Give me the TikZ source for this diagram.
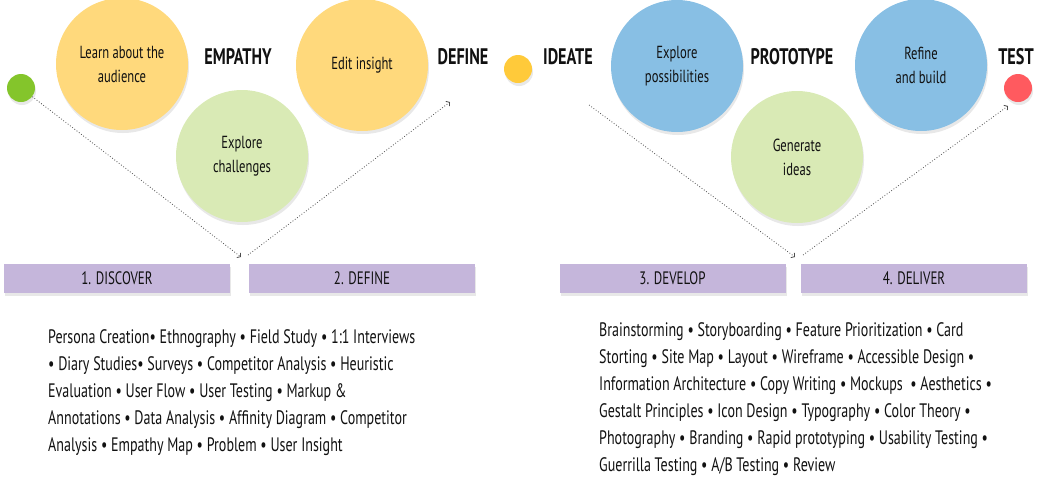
\documentclass[tikz,border=0pt]{standalone}
\usepackage{fontspec}
\setmainfont{PT Sans}[FakeStretch=0.72]
\usetikzlibrary{shadows,arrows.meta}
\definecolor{yellowC}{HTML}{FFD97C}
\definecolor{greenC}{HTML}{D9EAB5}
\definecolor{blueC}{HTML}{88BFE4}
\definecolor{dotGreen}{HTML}{84C52B}
\definecolor{dotYellow}{HTML}{FFCA3A}
\definecolor{dotRed}{HTML}{FF5A5F}
\definecolor{barC}{HTML}{C5B6DB}
\definecolor{inkC}{HTML}{111111}
\newcommand\myBody{\fontsize{19.5}{27}\selectfont}
\newcommand\myCirc{\fontsize{17.5}{24}\selectfont}
\newcommand\myHead{\bfseries\fontsize{22.5}{24}\selectfont}
\newcommand\myBar{\fontsize{18}{20}\selectfont}
\tikzset{
  softshadow/.style={drop shadow={opacity=0.18, shadow xshift=1pt, shadow yshift=-3pt}},
  bigcirc/.style={circle, minimum size=132pt, inner sep=0pt, align=center, font=\myCirc, text=inkC, softshadow},
  smalldot/.style={circle, minimum size=28pt, inner sep=0pt, softshadow},
  headtext/.style={font=\myHead, text=inkC, inner sep=0pt},
  phasebar/.style={fill=barC, minimum width=226pt, minimum height=29pt, inner sep=0pt, font=\myBar, text=inkC, softshadow},
  bodytext/.style={font=\myBody, text=inkC, align=left, inner sep=0pt, anchor=north west},
  conn/.style={draw=black!70, dotted, line width=0.8pt, -{Straight Barb[length=2.5pt,width=6pt]}},
}
\begin{document}
\begin{tikzpicture}[x=1pt,y=-1pt]
\useasboundingbox (0,0) rectangle (1038,480);
% dots
\node[smalldot, fill=dotGreen] (gdot) at (21,88) {};
\node[smalldot, fill=dotYellow] (ydot) at (518,69) {};
\node[smalldot, fill=dotRed] (rdot) at (1018,88) {};
% circles
\node[bigcirc, fill=yellowC] (learn) at (122,64) {Learn about the\\audience};
\node[bigcirc, fill=greenC] (explch) at (242,156) {Explore\\challenges};
\node[bigcirc, fill=yellowC] (edit) at (362,65) {Edit insight};
\node[bigcirc, fill=blueC] (explpo) at (677,66) {Explore\\possibilities};
\node[bigcirc, fill=greenC] (gen) at (797,157) {Generate\\ideas};
\node[bigcirc, fill=blueC] (refine) at (921,65) {Refine\\and build};
% headings
\node[headtext] (hemp) at (238,57) {EMPATHY};
\node[headtext] (hdef) at (463,57) {DEFINE};
\node[headtext] (hide) at (568,57) {IDEATE};
\node[headtext] (hpro) at (792,57) {PROTOTYPE};
\node[headtext] (htes) at (1016,57) {TEST};
% bars
\node[phasebar] (b1) at (117,278.5) {1. DISCOVER};
\node[phasebar] (b2) at (362,278.5) {2. DEFINE};
\node[phasebar] (b3) at (672.5,278.5) {3. DEVELOP};
\node[phasebar] (b4) at (914,278.5) {4. DELIVER};
% connector points
\coordinate (v1) at (241,257);
\coordinate (v1s) at (248,255);
\coordinate (d1) at (450,102);
\coordinate (i1) at (589,105);
\coordinate (v2) at (795,257);
\coordinate (v2s) at (803,255);
\coordinate (t1) at (1008,106);
\draw[conn] (gdot) -- (v1);
\draw[conn] (v1s) -- (d1);
\draw[conn] (i1) -- (v2);
\draw[conn] (v2s) -- (t1);
% text blocks
\node[bodytext] (tleft) at (48,329) {Persona Creation• Ethnography • Field Study • 1:1 Interviews\\
• Diary Studies• Surveys • Competitor Analysis • Heuristic\\
Evaluation • User Flow • User Testing • Markup \&\\
Annotations • Data Analysis • Affinity Diagram • Competitor\\
Analysis • Empathy Map • Problem • User Insight};
\node[bodytext] (tright) at (599,322) {Brainstorming • Storyboarding • Feature Prioritization • Card\\
Storting • Site Map • Layout • Wireframe • Accessible Design •\\
Information Architecture • Copy Writing • Mockups \ • Aesthetics •\\
Gestalt Principles • Icon Design • Typography • Color Theory •\\
Photography • Branding • Rapid prototyping • Usability Testing •\\
Guerrilla Testing • A/B Testing • Review};
\end{tikzpicture}
\end{document}
